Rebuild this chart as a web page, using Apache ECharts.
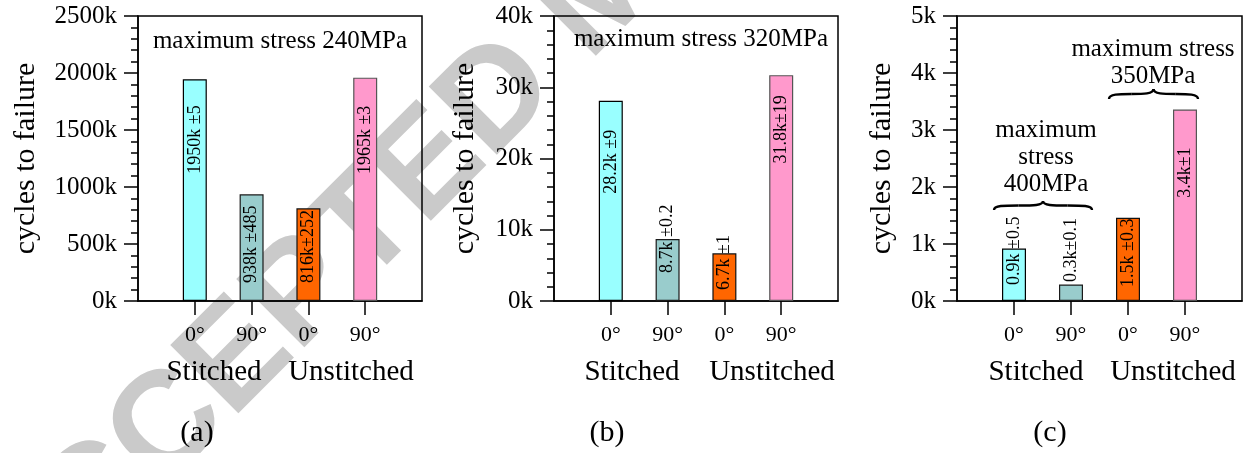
<!DOCTYPE html>
<html>
<head>
<meta charset="utf-8">
<script src="https://cdn.jsdelivr.net/npm/echarts@6/dist/echarts.min.js"></script>
<style>
html, body { margin: 0; padding: 0; background: #fff; }
#fatigue { width: 1249px; height: 453px; }
</style>
</head>
<body>
<div id="fatigue"></div>
<script>
// bar categories (fibre direction) and their groups
var categories = ['0°', '90°', '0°', '90°'];
var groups = ['Stitched', 'Unstitched'];
var panelNames = ['(a)', '(b)', '(c)'];

// cycles to failure, in thousands (k)
var cycles240 = [1945, 936, 813, 1959];
var cycles320 = [28.1, 8.7, 6.69, 31.7];
var cycles400 = [0.92, 0.29, 1.46, 3.36];

// text printed on the bars
var labels240 = ['1950k ±5', '938k ±485', '816k±252', '1965k ±3'];
var labels320 = ['28.2k ±9', '8.7k ±0.2', '6.7k ±1', '31.8k±19'];
var labels400 = ['0.9k ±0.5', '0.3k±0.1', '1.5k ±0.3', '3.4k±1'];

// y tick values (k)
var ticks240 = [0, 500, 1000, 1500, 2000, 2500];
var ticks320 = [0, 10, 20, 30, 40];
var ticks400 = [0, 1, 2, 3, 4, 5];

var serif = "'Liberation Serif', 'Times New Roman', serif";
var barColors = ['#99ffff', '#99cccc', '#ff6600', '#ff99cc'];
var barBorders = ['#000', '#1a1a1a', '#111', '#555'];
var grids = [
	{left: 138, top: 16, width: 284, height: 285},
	{left: 554, top: 16, width: 284, height: 285},
	{left: 957, top: 16, width: 285, height: 285}
];
var nameGaps = [97, 74, 60];
// where each bar label sits: [position, distance]
var labelSpots = [
	[['insideTop', 26], ['insideBottom', 18], ['insideBottom', 18], ['insideTop', 28]],
	[['insideTop', 29], ['insideBottom', 28], ['insideBottom', 11], ['insideTop', 20]],
	[['insideBottom', 16], ['insideBottom', 19], ['insideBottom', 14], ['insideTop', 38]]
];

var chart = echarts.init(document.getElementById('fatigue'));

function barData(values, texts, spots) {
	var out = [null];
	values.forEach(function(v, i) {
		var top = spots[i][0] == 'insideTop';
		out.push({
			value: v,
			itemStyle: {color: barColors[i], borderColor: barBorders[i], borderWidth: 1.2},
			label: {
				show: true,
				formatter: texts[i],
				position: spots[i][0],
				distance: spots[i][1],
				rotate: 90,
				align: top ? 'right' : 'left',
				verticalAlign: 'middle',
				color: '#000',
				fontFamily: serif,
				fontSize: 18
			}
		});
	});
	out.push(null);
	return out;
}

var xAxes = [], yAxes = [], series = [];
[[cycles240, labels240, ticks240], [cycles320, labels320, ticks320], [cycles400, labels400, ticks400]].forEach(function(p, i) {
	var ticks = p[2];
	xAxes.push({
		gridIndex: i,
		type: 'category',
		boundaryGap: false,
		data: [''].concat(categories, ['']),
		axisLine: {lineStyle: {color: '#000', width: 1.5}},
		axisTick: {
			length: 14,
			interval: function(idx, val) { return val !== ''; },
			lineStyle: {color: '#000', width: 1.5}
		},
		axisLabel: {
			interval: 0,
			margin: 23,
			color: '#000',
			fontFamily: serif,
			fontSize: 22
		}
	});
	yAxes.push({
		gridIndex: i,
		type: 'value',
		min: ticks[0],
		max: ticks[ticks.length - 1],
		interval: ticks[1] - ticks[0],
		name: 'cycles to failure',
		nameLocation: 'middle',
		nameGap: nameGaps[i],
		nameTextStyle: {color: '#000', fontFamily: serif, fontSize: 30},
		splitLine: {show: false},
		axisLine: {show: true, lineStyle: {color: '#000', width: 1.5}},
		axisTick: {show: true, length: 14, lineStyle: {color: '#000', width: 1.5}},
		minorTick: {show: true, splitNumber: 5, length: 7, lineStyle: {color: '#000', width: 1.5}},
		axisLabel: {
			margin: 21,
			color: '#000',
			fontFamily: serif,
			fontSize: 25,
			formatter: function(v) { return v + 'k'; }
		}
	});
	series.push({
		type: 'bar',
		xAxisIndex: i,
		yAxisIndex: i,
		barWidth: 24,
		data: barData(p[0], p[1], labelSpots[i])
	});
});

function txt(text, x, y, size, extra) {
	var st = {text: text, fill: '#000', font: size + 'px ' + serif, align: 'center', verticalAlign: 'middle'};
	if (extra) for (var k in extra) st[k] = extra[k];
	return {type: 'text', x: x, y: y, z: 5, style: st};
}

// curly brace with the tip pointing up, made of four curves
function brace(x0, x1, yTip, yEnd) {
	var m = (x0 + x1) / 2, h2 = (yTip + yEnd) / 2, r = 10;
	var st = {fill: null, stroke: '#000', lineWidth: 2.4};
	function curve(a, b, c, d) {
		return {type: 'bezierCurve', z: 5, style: st, shape: {
			x1: a[0], y1: a[1], cpx1: b[0], cpy1: b[1], cpx2: c[0], cpy2: c[1], x2: d[0], y2: d[1]}};
	}
	var qL = (x0 + m) / 2, qR = (m + x1) / 2;
	return [
		curve([x0, yEnd], [x0, h2], [x0 + r, h2], [qL, h2]),
		curve([qL, h2], [m - r, h2], [m, h2], [m, yTip]),
		curve([m, yTip], [m, h2], [m + r, h2], [qR, h2]),
		curve([qR, h2], [x1 - r, h2], [x1, h2], [x1, yEnd])
	];
}

var graphics = [
	{
		type: 'text', x: -10, y: 607, z: -10, rotation: 45 * Math.PI / 180,
		style: {text: 'ACCEPTED MANUSCRIPT', fill: '#cacaca', font: 'bold 140px "Liberation Sans"', align: 'left', verticalAlign: 'middle'}
	},
	txt('maximum stress 240MPa', 280, 41, 25),
	txt('maximum stress 320MPa', 701, 39, 25),
	txt('maximum stress\n350MPa', 1153, 63, 25, {lineHeight: 27}),
	txt('maximum\nstress\n400MPa', 1046, 157, 25, {lineHeight: 27})
].concat(brace(1109, 1198, 89, 99), brace(994, 1092, 201, 210));

var groupX = [[214, 351], [632, 772], [1036, 1173]];
var panelX = [197, 607, 1050];
groupX.forEach(function(g, i) {
	graphics.push(txt(groups[0], g[0], 372, 29));
	graphics.push(txt(groups[1], g[1], 372, 29));
	graphics.push(txt(panelNames[i], panelX[i], 433, 30));
});

var option = {
	animation: false,
	backgroundColor: '#fff',
	grid: grids.map(function(g) {
		return {left: g.left, top: g.top, width: g.width, height: g.height, show: true,
			borderColor: '#000', borderWidth: 1.5, backgroundColor: 'transparent'};
	}),
	xAxis: xAxes,
	yAxis: yAxes,
	series: series,
	graphic: graphics
};
chart.setOption(option);
window.addEventListener('resize', chart.resize);
</script>
</body>
</html>
